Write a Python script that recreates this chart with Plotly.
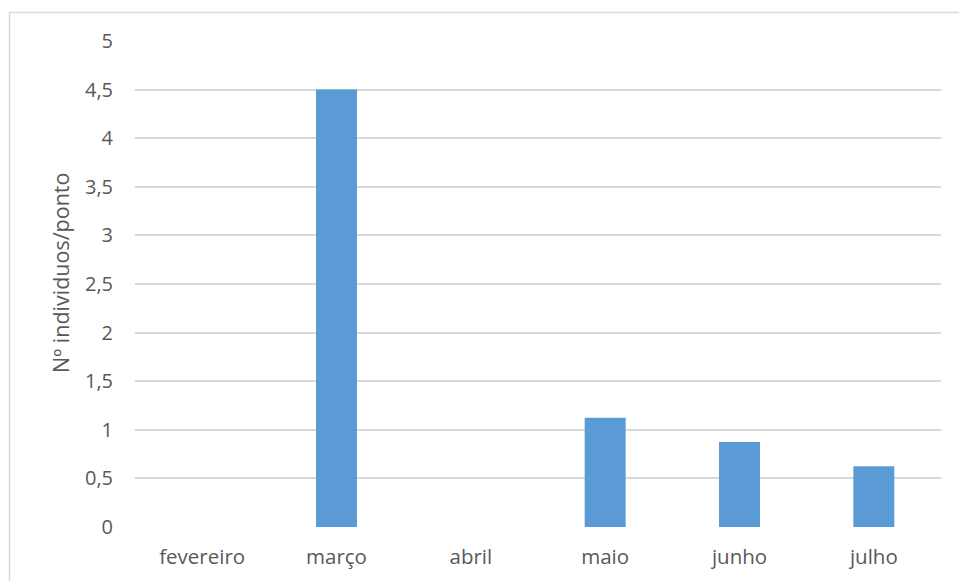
import plotly.graph_objects as go

months = ["fevereiro", "março", "abril", "maio", "junho", "julho"]
values = [0, 4.5, 0, 1.125, 0.875, 0.625]
yticks = [0, 0.5, 1, 1.5, 2, 2.5, 3, 3.5, 4, 4.5, 5]
ytitle = "Nº individuos/ponto"

L, R, T, B = 135, 18, 41, 54
W, H = 959, 581
pw, ph = W - L - R, H - T - B

fig = go.Figure(go.Bar(x=months, y=values, marker_color="#5B9BD5",
                       marker_line=dict(width=0), width=0.305))

def px_to_paper_x(px):
    return (px - L) / pw

def px_to_paper_y(py):
    return (H - B - py) / ph

fig.add_shape(type="rect", xref="paper", yref="paper",
              x0=px_to_paper_x(9.5), x1=px_to_paper_x(975),
              y0=px_to_paper_y(600), y1=px_to_paper_y(12.5),
              line=dict(color="#D9D9D9", width=1.5), layer="below")

fig.add_annotation(text=ytitle, textangle=-90, xref="paper", yref="paper",
                   x=px_to_paper_x(60), y=px_to_paper_y(273), xanchor="center",
                   yanchor="middle", showarrow=False,
                   font=dict(size=21.5, color="#595959"))

fig.update_layout(
    width=W, height=H, margin=dict(l=L, r=R, t=T, b=B),
    paper_bgcolor="white", plot_bgcolor="white",
    separators=",.", showlegend=False,
    font=dict(family="Open Sans", size=20, color="#595959"),
)
fig.update_xaxes(showgrid=False, showline=False, ticks="", ticklabelstandoff=15,
                 tickfont=dict(size=20.5, color="#595959"))
fig.update_yaxes(range=[0, 5], tickvals=yticks, showgrid=True, gridcolor="#D9D9D9",
                 gridwidth=2, zeroline=False, showline=False, ticklabelstandoff=21,
                 tickfont=dict(size=20, color="#595959"))

fig.write_html("out.html")
